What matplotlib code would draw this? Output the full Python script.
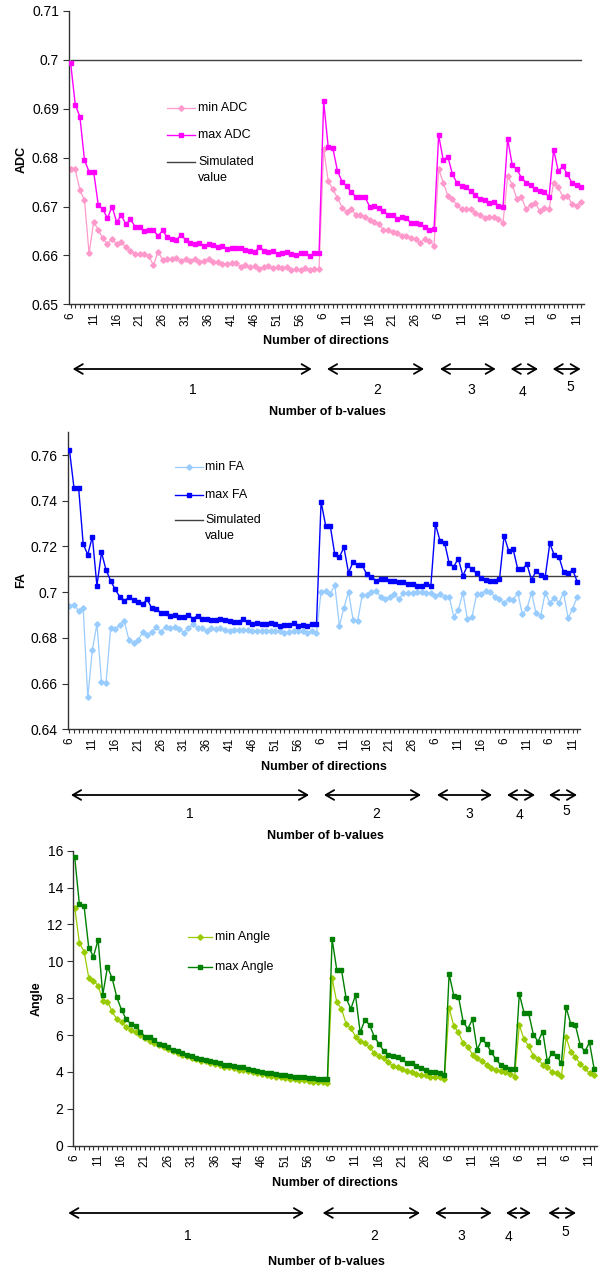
import numpy as np
import matplotlib
matplotlib.use('Agg')
import matplotlib.pyplot as plt
from matplotlib.lines import Line2D

plt.rcParams['font.family'] = ['Liberation Sans', 'DejaVu Sans']

# ---------------- data ----------------
# number of directions per b-value group (1..5 b-values)
seg_max_dirs = [60, 30, 20, 15, 12]
directions = [d for m in seg_max_dirs for d in range(6, m + 1)]
bvalue_labels = ['1', '2', '3', '4', '5']

adc_min = [
    # 1 b-value (6..60)
    0.6776, 0.6776, 0.6734, 0.6713, 0.6604, 0.6669, 0.6652, 0.6635, 0.6623, 0.6634,
    0.6623, 0.6627, 0.6617, 0.6610, 0.6603, 0.6603, 0.6603, 0.6598, 0.6580, 0.6608,
    0.6591, 0.6592, 0.6592, 0.6594, 0.6588, 0.6593, 0.6589, 0.6593, 0.6587, 0.6589,
    0.6592, 0.6586, 0.6587, 0.6582, 0.6582, 0.6584, 0.6584, 0.6577, 0.6580, 0.6576,
    0.6578, 0.6573, 0.6577, 0.6579, 0.6574, 0.6576, 0.6574, 0.6577, 0.6570, 0.6572,
    0.6570, 0.6574, 0.6570, 0.6572, 0.6572,
    # 2 b-values (6..30)
    0.6817, 0.6752, 0.6735, 0.6718, 0.6698, 0.6689, 0.6694, 0.6683, 0.6683, 0.6679,
    0.6673, 0.6668, 0.6664, 0.6652, 0.6652, 0.6647, 0.6645, 0.6640, 0.6640, 0.6636,
    0.6634, 0.6626, 0.6634, 0.6630, 0.6620,
    # 3 b-values (6..20)
    0.6777, 0.6749, 0.6722, 0.6715, 0.6703, 0.6694, 0.6694, 0.6694, 0.6686, 0.6683,
    0.6677, 0.6678, 0.6679, 0.6675, 0.6667,
    # 4 b-values (6..15)
    0.6763, 0.6745, 0.6715, 0.6720, 0.6694, 0.6703, 0.6707, 0.6691, 0.6696, 0.6694,
    # 5 b-values (6..12)
    0.6749, 0.6739, 0.6720, 0.6722, 0.6705, 0.6702, 0.6709,
]
adc_max = [
    0.6993, 0.6908, 0.6884, 0.6795, 0.6771, 0.6771, 0.6703, 0.6694, 0.6676, 0.6700,
    0.6668, 0.6682, 0.6664, 0.6674, 0.6659, 0.6659, 0.6650, 0.6653, 0.6651, 0.6640,
    0.6651, 0.6637, 0.6633, 0.6632, 0.6642, 0.6632, 0.6626, 0.6623, 0.6626, 0.6619,
    0.6623, 0.6622, 0.6618, 0.6620, 0.6613, 0.6615, 0.6615, 0.6616, 0.6611, 0.6610,
    0.6606, 0.6618, 0.6610, 0.6608, 0.6609, 0.6603, 0.6604, 0.6608, 0.6602, 0.6600,
    0.6604, 0.6605, 0.6599, 0.6604, 0.6604,
    0.6915, 0.6821, 0.6819, 0.6773, 0.6751, 0.6742, 0.6729, 0.6720, 0.6719, 0.6719,
    0.6700, 0.6702, 0.6698, 0.6691, 0.6683, 0.6683, 0.6674, 0.6679, 0.6676, 0.6666,
    0.6666, 0.6664, 0.6659, 0.6653, 0.6655,
    0.6846, 0.6795, 0.6802, 0.6766, 0.6748, 0.6742, 0.6739, 0.6731, 0.6724, 0.6715,
    0.6713, 0.6708, 0.6710, 0.6702, 0.6700,
    0.6838, 0.6785, 0.6776, 0.6759, 0.6749, 0.6744, 0.6736, 0.6732, 0.6729, 0.6720,
    0.6816, 0.6773, 0.6782, 0.6766, 0.6748, 0.6744, 0.6739,
]
adc_simulated = 0.70

fa_min = [
    0.6941, 0.6944, 0.6919, 0.6929, 0.6540, 0.6747, 0.6861, 0.6608, 0.6604, 0.6842,
    0.6837, 0.6858, 0.6872, 0.6791, 0.6779, 0.6791, 0.6824, 0.6811, 0.6826, 0.6846,
    0.6826, 0.6849, 0.6843, 0.6846, 0.6840, 0.6823, 0.6842, 0.6859, 0.6843, 0.6842,
    0.6830, 0.6843, 0.6839, 0.6843, 0.6834, 0.6832, 0.6834, 0.6834, 0.6834, 0.6834,
    0.6832, 0.6832, 0.6832, 0.6832, 0.6829, 0.6832, 0.6829, 0.6823, 0.6826, 0.6829,
    0.6829, 0.6832, 0.6823, 0.6832, 0.6823,
    0.7002, 0.7007, 0.6992, 0.7031, 0.6852, 0.6932, 0.7002, 0.6878, 0.6874, 0.6988,
    0.6988, 0.6999, 0.7007, 0.6980, 0.6969, 0.6977, 0.6990, 0.6970, 0.6995, 0.6995,
    0.6995, 0.7002, 0.7002, 0.6995, 0.6998,
    0.6983, 0.6990, 0.6980, 0.6980, 0.6893, 0.6922, 0.6998, 0.6881, 0.6893, 0.6990,
    0.6992, 0.7007, 0.7002, 0.6980, 0.6969,
    0.6954, 0.6970, 0.6966, 0.6998, 0.6903, 0.6929, 0.6998, 0.6907, 0.6897, 0.6998,
    0.6954, 0.6973, 0.6954, 0.6998, 0.6886, 0.6928, 0.6980,
]
fa_max = [
    0.7622, 0.7454, 0.7457, 0.7211, 0.7164, 0.7243, 0.7028, 0.7174, 0.7097, 0.7050,
    0.7012, 0.6980, 0.6963, 0.6977, 0.6966, 0.6957, 0.6948, 0.6969, 0.6929, 0.6926,
    0.6910, 0.6910, 0.6895, 0.6900, 0.6893, 0.6893, 0.6900, 0.6884, 0.6897, 0.6881,
    0.6884, 0.6878, 0.6878, 0.6881, 0.6878, 0.6874, 0.6871, 0.6871, 0.6881, 0.6871,
    0.6861, 0.6864, 0.6861, 0.6861, 0.6864, 0.6861, 0.6853, 0.6858, 0.6858, 0.6864,
    0.6853, 0.6858, 0.6853, 0.6859, 0.6859,
    0.7396, 0.7291, 0.7291, 0.7165, 0.7154, 0.7196, 0.7084, 0.7133, 0.7117, 0.7117,
    0.7078, 0.7068, 0.7050, 0.7059, 0.7059, 0.7050, 0.7050, 0.7046, 0.7046, 0.7037,
    0.7037, 0.7028, 0.7028, 0.7034, 0.7028,
    0.7297, 0.7225, 0.7217, 0.7126, 0.7112, 0.7147, 0.7071, 0.7117, 0.7101, 0.7082,
    0.7061, 0.7053, 0.7049, 0.7049, 0.7056,
    0.7246, 0.7182, 0.7187, 0.7100, 0.7100, 0.7123, 0.7053, 0.7093, 0.7075, 0.7068,
    0.7214, 0.7161, 0.7155, 0.7088, 0.7082, 0.7097, 0.7046,
]
fa_simulated = 0.707

angle_min = [
    12.91, 11.01, 10.53, 9.12, 8.96, 8.68, 7.87, 7.82, 7.28, 6.86,
    6.70, 6.43, 6.28, 6.14, 6.00, 5.83, 5.70, 5.56, 5.45, 5.34,
    5.23, 5.13, 5.04, 4.93, 4.84, 4.75, 4.69, 4.62, 4.57, 4.51,
    4.44, 4.39, 4.29, 4.26, 4.19, 4.13, 4.10, 4.04, 3.99, 3.93,
    3.88, 3.84, 3.79, 3.75, 3.72, 3.68, 3.64, 3.61, 3.57, 3.54,
    3.50, 3.48, 3.46, 3.45, 3.38,
    9.08, 7.78, 7.42, 6.61, 6.37, 5.92, 5.67, 5.56, 5.34, 5.02,
    4.87, 4.73, 4.53, 4.33, 4.26, 4.15, 4.04, 3.99, 3.90, 3.84,
    3.81, 3.75, 3.75, 3.72, 3.61,
    7.46, 6.50, 6.14, 5.56, 5.38, 4.93, 4.75, 4.57, 4.39, 4.22,
    4.11, 4.04, 3.99, 3.90, 3.75,
    6.55, 5.78, 5.41, 4.89, 4.69, 4.39, 4.26, 4.02, 3.93, 3.79,
    5.88, 5.09, 4.80, 4.44, 4.20, 3.93, 3.84,
]
angle_max = [
    15.64, 13.09, 13.00, 10.74, 10.26, 11.16, 8.18, 9.70, 9.08, 8.05,
    7.37, 6.86, 6.61, 6.50, 6.19, 5.92, 5.92, 5.74, 5.51, 5.47,
    5.34, 5.20, 5.16, 5.02, 4.93, 4.84, 4.76, 4.69, 4.66, 4.57,
    4.53, 4.48, 4.40, 4.40, 4.33, 4.26, 4.26, 4.17, 4.11, 4.04,
    4.01, 3.97, 3.93, 3.90, 3.84, 3.81, 3.79, 3.75, 3.72, 3.70,
    3.68, 3.66, 3.64, 3.63, 3.61,
    11.20, 9.53, 9.53, 8.00, 7.42, 8.16, 6.14, 6.82, 6.55, 5.92,
    5.52, 5.16, 4.93, 4.87, 4.80, 4.69, 4.48, 4.48, 4.33, 4.20,
    4.11, 3.99, 3.99, 3.93, 3.81,
    9.32, 8.14, 8.09, 6.72, 6.34, 6.86, 5.20, 5.78, 5.52, 5.07,
    4.69, 4.39, 4.26, 4.15, 4.15,
    8.23, 7.22, 7.18, 6.03, 5.65, 6.19, 4.57, 5.05, 4.84, 4.48,
    7.51, 6.59, 6.52, 5.47, 5.11, 5.60, 4.15,
]

adc_yticks = [0.65, 0.66, 0.67, 0.68, 0.69, 0.70, 0.71]
adc_yticklabels = ['0.65', '0.66', '0.67', '0.68', '0.69', '0.7', '0.71']
fa_yticks = [0.64, 0.66, 0.68, 0.70, 0.72, 0.74, 0.76]
fa_yticklabels = ['0.64', '0.66', '0.68', '0.7', '0.72', '0.74', '0.76']
angle_yticks = [0, 2, 4, 6, 8, 10, 12, 14, 16]
angle_yticklabels = ['0', '2', '4', '6', '8', '10', '12', '14', '16']

# ---------------- layout helpers ----------------
W, H = 606, 1270
fig = plt.figure(figsize=(W / 100, H / 100), dpi=100)


def fx(x):
    return x / W


def fy(y):
    return 1 - y / H


def add_axes(l, r, t, b):
    return fig.add_axes([l / W, 1 - b / H, (r - l) / W, (b - t) / H])


x = np.arange(len(directions))
xticklabels = [str(d) if i % 5 == 0 else '' for i, d in enumerate(directions)]
AXCOL = '#333333'


def style_axis(ax, ylim, yticks, yticklabels):
    ax.set_xlim(-0.43, len(directions) - 0.4)
    ax.set_ylim(*ylim)
    for s in ('top', 'right'):
        ax.spines[s].set_visible(False)
    for s in ('left', 'bottom'):
        ax.spines[s].set_color(AXCOL)
        ax.spines[s].set_linewidth(1.0)
    ax.set_xticks(x)
    ax.set_xticklabels(xticklabels, rotation=90, fontsize=8.5)
    ax.set_yticks(yticks)
    ax.set_yticklabels(yticklabels, fontsize=10)
    ax.tick_params(axis='x', direction='out', length=3, width=0.8, color=AXCOL, pad=3)
    ax.tick_params(axis='y', direction='out', length=4, width=0.8, color=AXCOL, pad=3)


def legend_entry(x0, x1, y, color, marker, ms, lw, label, text_x, mfc=None):
    xm = (x0 + x1) / 2
    line = Line2D([fx(x0), fx(xm), fx(x1)], [fy(y)] * 3, transform=fig.transFigure,
                  color=color, lw=lw, marker=marker, markersize=ms, markevery=[1],
                  markerfacecolor=mfc or color, markeredgecolor=mfc or color)
    fig.add_artist(line)
    fig.text(fx(text_x), fy(y), label, fontsize=9, va='center', ha='left')


def bottom_block(center_dir, y_dir, arrows, y_arrow, num_pos, center_b, y_b):
    fig.text(fx(center_dir), fy(y_dir), 'Number of directions', fontsize=9,
             fontweight='bold', ha='center', va='center')
    for (a0, a1) in arrows:
        fig.add_artist(matplotlib.patches.FancyArrowPatch(
            (fx(a0), fy(y_arrow)), (fx(a1), fy(y_arrow)), transform=fig.transFigure,
            arrowstyle='<->,head_length=6,head_width=3.5', color='black', lw=1.3,
            shrinkA=0, shrinkB=0, mutation_scale=1))
    for lab, (nx, ny) in zip(bvalue_labels, num_pos):
        fig.text(fx(nx), fy(ny), lab, fontsize=10, ha='center', va='center')
    fig.text(fx(center_b), fy(y_b), 'Number of b-values', fontsize=9,
             fontweight='bold', ha='center', va='center')


# ---------------- panel 1: ADC ----------------
ax1 = add_axes(68.7, 584, 11, 304.3)
ax1.plot(x, [adc_simulated] * len(x), color='#404040', lw=1.0, zorder=1)
ax1.plot(x, adc_min, color='#FF99CC', lw=0.9, marker='D', ms=2.8, zorder=2)
ax1.plot(x, adc_max, color='#FF00FF', lw=1.0, marker='s', ms=3.0, zorder=3)
style_axis(ax1, (0.65, 0.71), adc_yticks, adc_yticklabels)
fig.text(fx(21.5), fy(159), 'ADC', rotation=90, fontsize=9, fontweight='bold',
         ha='center', va='center')
legend_entry(167, 195, 108, '#FF99CC', 'D', 2.8, 0.9, 'min ADC', 198)
legend_entry(167, 195, 135, '#FF00FF', 's', 3.0, 1.0, 'max ADC', 198)
legend_entry(167, 195, 162, '#404040', None, 0, 1.0, 'Simulated', 198)
fig.text(fx(198), fy(178), 'value', fontsize=9, va='center', ha='left')
bottom_block(326, 340.7,
             [(72.7, 311.7), (327, 424), (440, 495.7), (510.7, 538), (552.7, 580.7)], 369,
             [(192.7, 390), (377.3, 390), (471.7, 390), (522.7, 392), (570, 386.7)],
             327.7, 411.7)

# ---------------- panel 2: FA ----------------
ax2 = add_axes(67.5, 580, 432.2, 729.3)
ax2.plot(x, [fa_simulated] * len(x), color='#404040', lw=1.0, zorder=1)
ax2.plot(x, fa_min, color='#99CCFF', lw=0.9, marker='D', ms=2.8, zorder=2)
ax2.plot(x, fa_max, color='#0000FF', lw=1.0, marker='s', ms=3.0, zorder=3)
style_axis(ax2, (0.64, 0.77), fa_yticks, fa_yticklabels)
fig.text(fx(21.5), fy(580.5), 'FA', rotation=90, fontsize=9, fontweight='bold',
         ha='center', va='center')
legend_entry(175, 203, 467, '#99CCFF', 'D', 2.8, 0.9, 'min FA', 205)
legend_entry(175, 203, 495, '#0000FF', 's', 3.0, 1.0, 'max FA', 205)
legend_entry(175, 203, 520, '#404040', None, 0, 1.0, 'Simulated', 205)
fig.text(fx(205), fy(536), 'value', fontsize=9, va='center', ha='left')
bottom_block(324, 767,
             [(71, 309), (324, 421), (437, 492), (507, 535), (549, 577)], 795,
             [(190, 814), (376, 814), (469, 814), (520, 815), (566, 811)],
             325, 836)

# ---------------- panel 3: Angle ----------------
ax3 = add_axes(72.7, 597, 850.7, 1145.7)
ax3.plot(x, angle_min, color='#99CC00', lw=0.9, marker='D', ms=2.8, zorder=2)
ax3.plot(x, angle_max, color='#008000', lw=1.0, marker='s', ms=3.0, zorder=3)
style_axis(ax3, (0, 16), angle_yticks, angle_yticklabels)
fig.text(fx(36.7), fy(999), 'Angle', rotation=90, fontsize=9, fontweight='bold',
         ha='center', va='center')
legend_entry(188, 212, 937, '#99CC00', 'D', 2.8, 0.9, 'min Angle', 215)
legend_entry(188, 212, 967, '#008000', 's', 3.0, 1.0, 'max Angle', 215)
bottom_block(335, 1183,
             [(68.3, 304), (322.7, 420), (435, 491.7), (506, 531), (548.3, 576)], 1213,
             [(188.3, 1236), (374, 1236), (461.7, 1236), (508.3, 1237), (565, 1232)],
             326, 1262)

fig.savefig('out.png', dpi=100, facecolor='white')
